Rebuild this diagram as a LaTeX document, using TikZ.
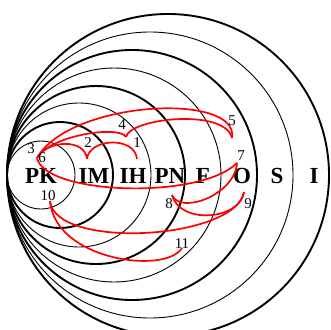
\documentclass[tikz,border=0pt]{standalone}
\usepackage{fontspec}
\setmainfont{Liberation Serif}
\usepackage{tikz}

\begin{document}
\begin{tikzpicture}[
  x=1pt, y=-1pt,
  thinring/.style={line width=0.9pt},
  thickring/.style={line width=1.9pt},
  level/.style={font=\fontsize{23}{23}\selectfont\bfseries, inner sep=0pt},
  step_num/.style={font=\fontsize{15}{15}\selectfont, inner sep=0pt},
  route/.style={red, line width=1.7pt}
]
  \useasboundingbox (0,0) rectangle (331,329);
  \clip (0,0) rectangle (331,329);

  % Nested rings, all touching at the left
  \foreach \r/\w in {34/thinring, 53/thickring, 72/thinring, 89/thickring,
                     107/thinring, 125/thickring, 143/thinring, 161/thickring}
    \draw[\w] (7+\r,175) circle[radius=\r pt];

  % Level names
  \node[level] (pk) at (41,176) {PK};
  \node[level] (im) at (94,176) {IM};
  \node[level] (ih) at (133,176) {IH};
  \node[level] (pn) at (170,176) {PN};
  \node[level] (f)  at (203,176) {F};
  \node[level] (o)  at (242,176) {O};
  \node[level] (s)  at (277,176) {S};
  \node[level] (i)  at (314,176) {I};

  % Ends of the routes
  \coordinate (start) at (37,158);
  \coordinate (cusp2) at (87,159);
  \coordinate (end1) at (137,159);
  \coordinate (cusp4) at (126,137);
  \coordinate (end5) at (232,138);
  \coordinate (end7) at (237,163);
  \coordinate (end8) at (172,195);
  \coordinate (end9) at (244,192);
  \coordinate (end10) at (50,201);
  \coordinate (end11) at (182,248);

  % Routes
  \draw[route] (start) .. controls (47,140) and (85,138) .. (cusp2);
  \draw[route] (cusp2) .. controls (89,138) and (135,136) .. (end1);
  \draw[route] (start) .. controls (50,135) and (120,125) .. (cusp4);
  \draw[route] (cusp4) .. controls (130,118) and (225,108) .. (end5);
  \draw[route] (start) .. controls (70,100) and (240,92) .. (end5);
  \draw[route] (start) .. controls (45,195) and (200,200) .. (end7);
  \draw[route] (end7) .. controls (235,195) and (180,215) .. (end8);
  \draw[route] (end8) .. controls (180,225) and (240,220) .. (end9);
  \draw[route] (end9) .. controls (235,240) and (55,250) .. (end10);
  \draw[route] (end10) .. controls (55,260) and (165,275) .. (end11);

  % Step numbers
  \node[step_num] (n1) at (137,143) {1};
  \node[step_num] (n2) at (88,143) {2};
  \node[step_num] (n3) at (31,149) {3};
  \node[step_num] (n4) at (122,125) {4};
  \node[step_num] (n5) at (232,121) {5};
  \node[step_num] (n6) at (42,158) {6};
  \node[step_num] (n7) at (241,156) {7};
  \node[step_num] (n8) at (169,204) {8};
  \node[step_num] (n9) at (248,204) {9};
  \node[step_num] (n10) at (48,196) {10};
  \node[step_num] (n11) at (182,244) {11};

\end{tikzpicture}
\end{document}
